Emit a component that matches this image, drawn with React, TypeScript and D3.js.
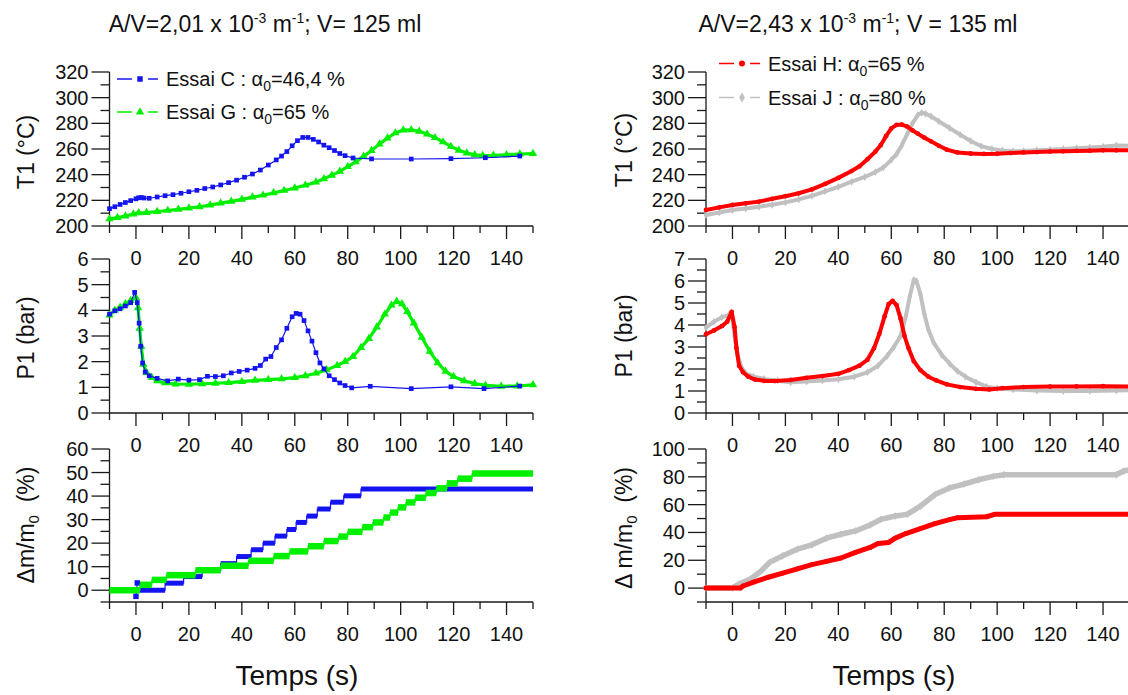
import React from "react";
import * as d3 from "d3";

type P = [number, number];
type Step = [number, number, number];

// ---------- axis ticks ----------
const timeMajor = [0, 20, 40, 60, 80, 100, 120, 140];
const timeMinor = [-10, 10, 30, 50, 70, 90, 110, 130, 150];
const tempMajor = [200, 220, 240, 260, 280, 300, 320];
const tempMinor = [210, 230, 250, 270, 290, 310];
const pLeftMajor = [0, 1, 2, 3, 4, 5, 6];
const pLeftMinor = [0.5, 1.5, 2.5, 3.5, 4.5, 5.5];
const pRightMajor = [0, 1, 2, 3, 4, 5, 6, 7];
const pRightMinor = [0.5, 1.5, 2.5, 3.5, 4.5, 5.5, 6.5];
const dmLeftMajor = [0, 10, 20, 30, 40, 50, 60];
const dmLeftMinor = [-5, 5, 15, 25, 35, 45, 55];
const dmRightMajor = [0, 20, 40, 60, 80, 100];
const dmRightMinor = [-10, 10, 30, 50, 70, 90];

// ---------- Essai C (blue) ----------
const t1EssaiC: P[] = [
  [-10, 213.5], [-8, 215], [-6, 216.8], [-4, 218.3], [-2, 219.8], [0, 221.2], [1, 222], [2, 222.2], [3, 221.8],
  [5, 221.6], [8, 222.6], [11, 223.6], [14, 224.4], [17, 225.5], [20, 226.7], [23, 227.8], [26, 229.2],
  [29, 230.4], [32, 232], [35, 233.8], [38, 235.7], [41, 238], [44, 240.5], [47, 243.6], [50, 247.5],
  [53, 251.5], [55, 254.5], [57, 258], [59, 262.5], [61, 266.5], [63, 269], [65, 269], [67, 267.5],
  [69, 265.5], [71, 263], [73, 261], [75, 258.8], [77, 256.5], [79, 254.8], [82, 253], [89, 252.3],
  [104, 252.2], [119, 252.5], [132, 253.2], [145, 254.5],
];
const p1EssaiC: P[] = [
  [-10, 3.85], [-8, 3.98], [-6, 4.06], [-4, 4.17], [-2, 4.3], [-0.5, 4.7], [0.5, 4.3], [1.2, 3.5], [1.8, 2.6],
  [2.5, 1.95], [3.5, 1.6], [5, 1.45], [8, 1.35], [12, 1.25], [16, 1.32], [20, 1.28], [24, 1.3], [27, 1.43],
  [30, 1.42], [33, 1.45], [36, 1.56], [39, 1.62], [42, 1.67], [45, 1.74], [47, 1.85], [49, 2.1], [51, 2.2],
  [53, 2.55], [55, 2.85], [57, 3.3], [59, 3.75], [60.5, 3.88], [62, 3.85], [63.5, 3.6], [65, 3.2], [66.5, 2.8],
  [68, 2.35], [69.5, 1.95], [71, 1.72], [73, 1.45], [75, 1.3], [77, 1.17], [79, 1.07], [81.5, 0.98],
  [88.5, 1.04], [104, 0.95], [119, 1.02], [131.5, 0.95], [145, 1.05],
];
const dmEssaiCSteps: Step[] = [
  [1, 11, 0], [11, 18, 3], [18, 25, 5.8], [25, 32, 8.5], [32, 38, 11.3], [38, 43.5, 14.3], [43.5, 48, 17.2],
  [48, 52.5, 20], [52.5, 57, 23], [57, 60.5, 25.8], [60.5, 64.5, 28.8], [64.5, 68.5, 31.5], [68.5, 73.5, 34.5],
  [73.5, 78.5, 37.4], [78.5, 85, 40.1], [85, 150, 43],
];
const dmEssaiCSpike: P[] = [[0, -2.6], [0.5, 3.1]];

// ---------- Essai G (green) ----------
const t1EssaiG: P[] = [
  [-10, 205.5], [-7, 206.6], [-4, 207.8], [-1, 209.3], [1, 210.2], [4, 210.4], [8, 211.3], [12, 212.1],
  [16, 213], [20, 214], [24, 215], [28, 216.3], [32, 217.8], [36, 219.2], [40, 220.8], [44, 222.5], [48, 224],
  [52, 225.8], [56, 227.7], [60, 229.6], [64, 231.8], [68, 234.2], [71, 236.8], [74, 239.5], [77, 242.6],
  [80, 246.2], [83, 250], [86, 254.3], [89, 258.8], [92, 263.8], [95, 268.5], [98, 272.5], [101, 274.8],
  [104, 275], [107, 273.8], [110, 271.6], [113, 268.8], [116, 265.5], [119, 262], [122, 259], [125, 256.8],
  [128, 255.5], [131, 254.8], [135, 255], [140, 255.5], [145, 256], [150, 256.5],
];
const p1EssaiG: P[] = [
  [-10, 3.81], [-8, 4.0], [-6, 4.12], [-4, 4.25], [-2, 4.38], [0, 4.5], [0.8, 4.1], [1.4, 3.3], [2, 2.6],
  [2.8, 1.9], [4, 1.57], [6, 1.38], [8, 1.25], [11, 1.17], [15, 1.13], [20, 1.12], [25, 1.14], [30, 1.16],
  [35, 1.18], [40, 1.22], [45, 1.27], [50, 1.3], [55, 1.33], [60, 1.38], [64, 1.45], [68, 1.55], [72, 1.68],
  [76, 1.85], [79, 2.0], [82, 2.2], [85, 2.55], [88, 2.9], [91, 3.35], [94, 3.85], [96.5, 4.2], [98.5, 4.35],
  [100.5, 4.25], [102.5, 3.95], [105, 3.5], [108, 2.95], [111, 2.4], [114, 1.95], [117, 1.62], [120, 1.42],
  [124, 1.25], [128, 1.15], [132, 1.08], [138, 1.04], [144, 1.05], [150, 1.1],
];
const dmEssaiGSteps: Step[] = [
  [-10, 1.5, 0], [1.5, 6, 2.3], [6, 11.5, 4.4], [11.5, 22.5, 6.4], [22.5, 32, 8.5], [32, 42.5, 10.4],
  [42.5, 52, 12.5], [52, 58, 14.5], [58, 65, 16.5], [65, 71, 18.7], [71, 76.5, 20.9], [76.5, 80, 22.8],
  [80, 85.5, 24.8], [85.5, 89.5, 26.8], [89.5, 93.5, 28.8], [93.5, 96, 30.9], [96, 99, 33], [99, 102, 35.2],
  [102, 105.5, 37.3], [105.5, 109.5, 39.3], [109.5, 113.5, 41.3], [113.5, 117.5, 43.3], [117.5, 121.5, 45.4],
  [121.5, 127, 47.4], [127, 150, 49.6],
];

// ---------- Essai H (red) ----------
const t1EssaiH: P[] = [
  [-10, 212.5], [-5, 214.5], [0, 216.4], [5, 217.7], [10, 219], [15, 221.2], [20, 223.2], [25, 225.5],
  [30, 228.5], [35, 232.8], [40, 237.5], [45, 242.8], [48, 246.5], [51, 252], [54, 258], [56, 263], [58, 270],
  [60, 276], [62, 278.8], [64, 279], [66, 277.5], [68, 274.5], [70, 272], [72.5, 268.8], [75, 266], [78, 262.5],
  [81, 259.5], [85, 257.3], [90, 256.5], [95, 256.2], [100, 256.3], [105, 256.8], [110, 257.3], [115, 257.6],
  [120, 258], [125, 258.2], [130, 258.5], [135, 258.7], [140, 259], [145, 259], [150, 259],
];
const p1EssaiH: P[] = [
  [-10, 3.58], [-7, 3.75], [-4, 3.95], [-2, 4.15], [-0.3, 4.6], [0.8, 3.9], [1.5, 2.95], [2.5, 2.15], [4, 1.85],
  [6, 1.65], [8.5, 1.52], [12, 1.46], [16, 1.45], [22, 1.5], [28, 1.6], [34, 1.68], [40, 1.78], [44, 1.95],
  [48, 2.15], [51, 2.42], [53.5, 2.95], [55.5, 3.6], [57.5, 4.4], [59, 4.95], [60.5, 5.1], [62, 4.9], [63.5, 4.3],
  [65, 3.5], [66.5, 2.95], [68.5, 2.35], [71, 1.95], [74, 1.65], [77, 1.48], [81, 1.3], [86, 1.18], [92, 1.1],
  [97, 1.07], [102, 1.13], [110, 1.18], [120, 1.2], [130, 1.21], [140, 1.22], [150, 1.2],
];
const dmEssaiH: P[] = [
  [-10, 0], [3, 0], [4, 1.5], [8, 4.3], [13.5, 7.8], [19, 10.7], [24.5, 13.8], [30, 16.9], [35.5, 19.2],
  [41, 21.6], [46.5, 25.7], [52, 29.2], [55, 32], [59, 32.8], [61.5, 35.9], [65.5, 39.2], [71, 42.8],
  [76.5, 46.3], [82, 49.2], [85, 50.6], [96, 51.3], [99, 53], [150, 53],
];

// ---------- Essai J (grey) ----------
const t1EssaiJ: P[] = [
  [-10, 208.6], [-5, 210.5], [0, 212.5], [5, 213.6], [10, 215], [15, 216.5], [20, 218.4], [25, 220.7],
  [30, 223.5], [35, 227], [40, 230.5], [45, 234.5], [50, 238.2], [54, 242], [57, 245.5], [60, 251.5], [62, 256],
  [64, 263], [66, 271.5], [68, 280], [70, 286.5], [71.5, 288.2], [73, 287.5], [75, 285.5], [78, 281.5],
  [82, 276.4], [86, 271.2], [90, 266.2], [94, 262.2], [98, 260], [102, 258.8], [106, 258.2], [110, 258.5],
  [115, 259], [120, 259.5], [125, 260], [130, 260.6], [135, 261.2], [140, 261.8], [145, 262.8], [150, 262.5],
];
const p1EssaiJ: P[] = [
  [-10, 3.88], [-7, 4.15], [-4, 4.35], [-1.5, 4.45], [-0.3, 4.57], [0.8, 3.5], [2, 2.6], [3.5, 2.05], [5, 1.8],
  [8, 1.65], [12, 1.55], [17, 1.47], [22, 1.4], [28, 1.43], [34, 1.48], [40, 1.53], [46, 1.65], [51, 1.85],
  [55, 2.15], [58.5, 2.6], [61, 3.0], [63.5, 3.5], [65.5, 4.4], [67, 5.3], [68.5, 6.05], [69.5, 6.0], [71, 5.4],
  [72.5, 4.5], [74, 3.8], [76, 3.2], [79, 2.65], [82, 2.25], [85, 1.9], [88, 1.65], [92, 1.4], [96, 1.2],
  [100, 1.12], [106, 1.07], [115, 1.02], [125, 1.0], [135, 1.0], [145, 1.02], [150, 1.03],
];
const dmEssaiJ: P[] = [
  [-10, 0], [0, 0], [2.5, 3], [7, 6.7], [11, 12.6], [14, 18.5], [19, 23.3], [24.5, 28], [30, 31.1],
  [35.5, 35.9], [41, 38.7], [46.5, 41.1], [52, 45.4], [56, 49.4], [61.5, 51.8], [66, 53], [71, 58.9],
  [76.5, 67.2], [82, 72], [87.5, 74.8], [93, 77.9], [98.5, 80.3], [102.5, 81.5], [145, 81.5], [148, 84.3],
  [150, 85],
];

// ---------- colours ----------
const BLUE = "#1414f0";
const GREEN = "#00f000";
const RED = "#ff0000";
const GREY = "#c0c0c0";

const FONT = "'Liberation Sans', Arial, Helvetica, sans-serif";
const W = 1128;
const H = 695;
const COLS = [
  { x0: 109.5, x1: 533 },
  { x0: 706, x1: 1129.5 },
];
const ROWS = [
  { y0: 72, y1: 226 },
  { y0: 259, y1: 413 },
  { y0: 449, y1: 602 },
];

type AxesProps = {
  xs: d3.ScaleLinear<number, number>;
  ys: d3.ScaleLinear<number, number>;
  yMajor: number[];
  yMinor: number[];
};

function Axes({ xs, ys, yMajor, yMinor }: AxesProps) {
  const [yb, yt] = ys.range();
  const xl = xs(-10);
  const xr = xs(150);
  const ax = "#1a1a1a";
  return (
    <g>
      <line x1={xl} x2={xr} y1={yb} y2={yb} stroke={ax} strokeWidth={1.3} />
      <line x1={xl} x2={xl} y1={yt} y2={yb} stroke={ax} strokeWidth={1.3} />
      {timeMajor.map((t) => (
        <g key={"xM" + t}>
          <line x1={xs(t)} x2={xs(t)} y1={yb} y2={yb + 13} stroke={ax} strokeWidth={1.3} />
          <text x={xs(t)} y={yb + 39} textAnchor="middle" fontSize={20} fontFamily={FONT} fill="#111">
            {t}
          </text>
        </g>
      ))}
      {timeMinor.map((t) => (
        <line key={"xm" + t} x1={xs(t)} x2={xs(t)} y1={yb} y2={yb + 7} stroke={ax} strokeWidth={1.3} />
      ))}
      {yMajor.map((v) => (
        <g key={"yM" + v}>
          <line x1={xl - 18} x2={xl} y1={ys(v)} y2={ys(v)} stroke={ax} strokeWidth={1.3} />
          <text x={xl - 21} y={ys(v) + 7} textAnchor="end" fontSize={20} fontFamily={FONT} fill="#111">
            {v}
          </text>
        </g>
      ))}
      {yMinor.map((v) => (
        <line key={"ym" + v} x1={xl - 9} x2={xl} y1={ys(v)} y2={ys(v)} stroke={ax} strokeWidth={1.3} />
      ))}
    </g>
  );
}

function Series({
  data,
  xs,
  ys,
  color,
  width,
  marker,
  msize,
}: {
  data: P[];
  xs: d3.ScaleLinear<number, number>;
  ys: d3.ScaleLinear<number, number>;
  color: string;
  width: number;
  marker: d3.SymbolType;
  msize: number;
}) {
  const line = d3
    .line<P>()
    .x((d) => xs(d[0]))
    .y((d) => ys(d[1]));
  const sym = d3.symbol().type(marker).size(msize)();
  return (
    <g>
      <path d={line(data) || ""} fill="none" stroke={color} strokeWidth={width} strokeLinejoin="round" strokeLinecap="round" />
      {data.map((d, i) => (
        <path key={i} d={sym || ""} transform={`translate(${xs(d[0])},${ys(d[1])})`} fill={color} />
      ))}
    </g>
  );
}

function Steps({
  steps,
  xs,
  ys,
  color,
  thick,
}: {
  steps: Step[];
  xs: d3.ScaleLinear<number, number>;
  ys: d3.ScaleLinear<number, number>;
  color: string;
  thick: number;
}) {
  const pts: P[] = [];
  steps.forEach((s) => {
    pts.push([s[0], s[2]]);
    pts.push([s[1], s[2]]);
  });
  const line = d3
    .line<P>()
    .x((d) => xs(d[0]))
    .y((d) => ys(d[1]));
  return (
    <g>
      <path d={line(pts) || ""} fill="none" stroke={color} strokeWidth={1.2} />
      {steps.map((s, i) => (
        <line key={i} x1={xs(s[0])} x2={xs(s[1])} y1={ys(s[2])} y2={ys(s[2])} stroke={color} strokeWidth={thick} />
      ))}
    </g>
  );
}

function YTitle({ x, y, children }: { x: number; y: number; children: React.ReactNode }) {
  return (
    <text transform={`translate(${x},${y}) rotate(-90)`} textAnchor="middle" fontSize={23} fontFamily={FONT} fill="#111">
      {children}
    </text>
  );
}

function LegendItem({
  x,
  y,
  color,
  marker,
  msize,
  children,
}: {
  x: number;
  y: number;
  color: string;
  marker: d3.SymbolType;
  msize: number;
  children: React.ReactNode;
}) {
  const sym = d3.symbol().type(marker).size(msize)();
  return (
    <g>
      <line x1={x} x2={x + 15} y1={y} y2={y} stroke={color} strokeWidth={1.5} />
      <line x1={x + 31} x2={x + 41} y1={y} y2={y} stroke={color} strokeWidth={1.5} />
      <path d={sym || ""} transform={`translate(${x + 23},${y})`} fill={color} />
      <text x={x + 49} y={y + 7} fontSize={20} fontFamily={FONT} fill="#111">
        {children}
      </text>
    </g>
  );
}

export default function App() {
  const xsL = d3.scaleLinear().domain([-10, 150]).range([COLS[0].x0, COLS[0].x1]);
  const xsR = d3.scaleLinear().domain([-10, 150]).range([COLS[1].x0, COLS[1].x1]);
  const yT = d3.scaleLinear().domain([200, 320]).range([ROWS[0].y1, ROWS[0].y0]);
  const yPL = d3.scaleLinear().domain([0, 6]).range([ROWS[1].y1, ROWS[1].y0]);
  const yPR = d3.scaleLinear().domain([0, 7]).range([ROWS[1].y1, ROWS[1].y0]);
  const yDL = d3.scaleLinear().domain([-5, 60]).range([ROWS[2].y1, ROWS[2].y0]);
  const yDR = d3.scaleLinear().domain([-10, 100]).range([ROWS[2].y1, ROWS[2].y0]);

  const sq = d3.symbolSquare;
  const tri = d3.symbolTriangle;
  const circ = d3.symbolCircle;
  const dia = d3.symbolDiamond;

  const spikeLine = d3
    .line<P>()
    .x((d) => xsL(d[0]))
    .y((d) => yDL(d[1]));
  const sqSym = d3.symbol().type(sq).size(30)() || "";

  return (
    <svg width={W} height={H} style={{ position: "absolute", left: 0, top: 0, background: "#fff" }}>
      <rect x={0} y={0} width={W} height={H} fill="#fff" />
      {/* titles */}
      <text x={265} y={32} textAnchor="middle" fontSize={23} fontFamily={FONT} fill="#111">
        A/V=2,01 x 10<tspan dy={-9} fontSize={14}>-3</tspan>
        <tspan dy={9}> m</tspan>
        <tspan dy={-9} fontSize={14}>-1</tspan>
        <tspan dy={9}>; V= 125 ml</tspan>
      </text>
      <text x={858} y={32} textAnchor="middle" fontSize={23} fontFamily={FONT} fill="#111">
        A/V=2,43 x 10<tspan dy={-9} fontSize={14}>-3</tspan>
        <tspan dy={9}> m</tspan>
        <tspan dy={-9} fontSize={14}>-1</tspan>
        <tspan dy={9}>; V = 135 ml</tspan>
      </text>

      {/* left column */}
      <Axes xs={xsL} ys={yT} yMajor={tempMajor} yMinor={tempMinor} />
      <Axes xs={xsL} ys={yPL} yMajor={pLeftMajor} yMinor={pLeftMinor} />
      <Axes xs={xsL} ys={yDL} yMajor={dmLeftMajor} yMinor={dmLeftMinor} />

      <Series data={t1EssaiG} xs={xsL} ys={yT} color={GREEN} width={3.2} marker={tri} msize={30} />
      <Series data={t1EssaiC} xs={xsL} ys={yT} color={BLUE} width={1.2} marker={sq} msize={22} />
      <Series data={p1EssaiG} xs={xsL} ys={yPL} color={GREEN} width={3.2} marker={tri} msize={30} />
      <Series data={p1EssaiC} xs={xsL} ys={yPL} color={BLUE} width={1.2} marker={sq} msize={22} />

      <Steps steps={dmEssaiCSteps} xs={xsL} ys={yDL} color={BLUE} thick={5} />
      <path d={spikeLine(dmEssaiCSpike) || ""} stroke={BLUE} strokeWidth={1.2} fill="none" />
      {dmEssaiCSpike.map((d, i) => (
        <path key={i} d={sqSym} transform={`translate(${xsL(d[0])},${yDL(d[1])})`} fill={BLUE} />
      ))}
      <Steps steps={dmEssaiGSteps} xs={xsL} ys={yDL} color={GREEN} thick={6.5} />

      <LegendItem x={117} y={79} color={BLUE} marker={sq} msize={30}>
        Essai C : α<tspan dy={5} fontSize={14}>0</tspan>
        <tspan dy={-5}>=46,4 %</tspan>
      </LegendItem>
      <LegendItem x={117} y={112} color={GREEN} marker={tri} msize={30}>
        Essai G : α<tspan dy={5} fontSize={14}>0</tspan>
        <tspan dy={-5}>=65 %</tspan>
      </LegendItem>

      <YTitle x={34} y={152}>T1 (°C)</YTitle>
      <YTitle x={34} y={338}>P1 (bar)</YTitle>
      <YTitle x={34} y={525}>
        Δm/m<tspan dy={5} fontSize={15}>0</tspan>
        <tspan dy={-5}>{"\u00a0\u00a0(%)"}</tspan>
      </YTitle>
      <text x={297} y={685} textAnchor="middle" fontSize={28} fontFamily={FONT} fill="#111">
        Temps (s)
      </text>

      {/* right column */}
      <Axes xs={xsR} ys={yT} yMajor={tempMajor} yMinor={tempMinor} />
      <Axes xs={xsR} ys={yPR} yMajor={pRightMajor} yMinor={pRightMinor} />
      <Axes xs={xsR} ys={yDR} yMajor={dmRightMajor} yMinor={dmRightMinor} />

      <Series data={t1EssaiJ} xs={xsR} ys={yT} color={GREY} width={4} marker={dia} msize={18} />
      <Series data={t1EssaiH} xs={xsR} ys={yT} color={RED} width={4} marker={circ} msize={18} />
      <Series data={p1EssaiJ} xs={xsR} ys={yPR} color={GREY} width={4} marker={dia} msize={18} />
      <Series data={p1EssaiH} xs={xsR} ys={yPR} color={RED} width={4} marker={circ} msize={18} />
      <Series data={dmEssaiJ} xs={xsR} ys={yDR} color={GREY} width={5.5} marker={dia} msize={18} />
      <Series data={dmEssaiH} xs={xsR} ys={yDR} color={RED} width={5} marker={circ} msize={18} />

      <LegendItem x={719} y={63.5} color={RED} marker={circ} msize={28}>
        Essai H: α<tspan dy={5} fontSize={14}>0</tspan>
        <tspan dy={-5}>=65 %</tspan>
      </LegendItem>
      <LegendItem x={719} y={97.5} color={GREY} marker={dia} msize={28}>
        Essai J : α<tspan dy={5} fontSize={14}>0</tspan>
        <tspan dy={-5}>=80 %</tspan>
      </LegendItem>

      <YTitle x={632} y={150}>T1 (°C)</YTitle>
      <YTitle x={632} y={336}>P1 (bar)</YTitle>
      <YTitle x={632} y={528}>
        Δ m/m<tspan dy={5} fontSize={15}>0</tspan>
        <tspan dy={-5}>{"\u00a0\u00a0(%)"}</tspan>
      </YTitle>
      <text x={894} y={685} textAnchor="middle" fontSize={28} fontFamily={FONT} fill="#111">
        Temps (s)
      </text>
    </svg>
  );
}
